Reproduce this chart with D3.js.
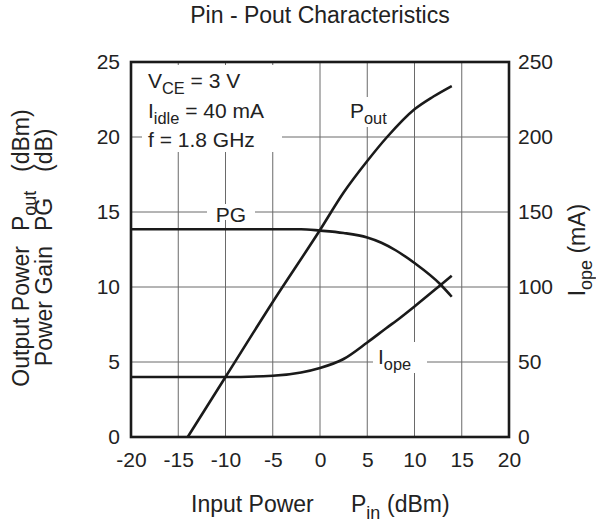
<!DOCTYPE html>
<html>
<head>
<meta charset="utf-8">
<script src="https://cdn.jsdelivr.net/npm/d3@7"></script>
<style>
  body { margin: 0; background: #fff; }
  svg text { font-family: "Liberation Sans", Arial, sans-serif; fill: #222; }
</style>
</head>
<body>
<svg id="chart" width="596" height="523"></svg>
<script>
// tick values
var pinTicks = [-20, -15, -10, -5, 0, 5, 10, 15, 20];
var dbTicks = [0, 5, 10, 15, 20, 25];
var maTicks = [0, 50, 100, 150, 200, 250];

// curves
var poutPin = [-14, -10, -5, 0, 2.5, 5, 7.1, 10, 12, 13.94];
var poutVal = [0, 4, 9, 13.8, 16.3, 18.4, 20, 21.85, 22.7, 23.4];

var pgPin = [-20, -10, -5, -2, 0, 2.5, 5, 6.5, 8, 10, 12.7, 13.94];
var pgVal = [13.85, 13.85, 13.85, 13.85, 13.76, 13.6, 13.3, 12.95, 12.45, 11.6, 10.2, 9.35];

var iopePin = [-20, -10, -5, -2, 0, 2.5, 5, 7, 8.5, 10, 12.7, 13.94];
var iopeVal = [40, 40, 40.8, 43, 46, 52, 63, 72.5, 79.5, 87, 101, 107.5];

var pL = 131, pT = 62, pW = 378, pH = 375;
var svg = d3.select("#chart");

var x = d3.scaleLinear().domain([-20, 20]).range([pL, pL + pW]);
var yL = d3.scaleLinear().domain([0, 25]).range([pT + pH, pT]);
var yR = d3.scaleLinear().domain([0, 250]).range([pT + pH, pT]);

// grid
var grid = svg.append("g").attr("stroke", "#6a6a6a").attr("stroke-width", 1);
grid.selectAll(".gx").data(pinTicks.slice(1, -1)).enter().append("line")
    .attr("x1", function(d) { return x(d); }).attr("x2", function(d) { return x(d); })
    .attr("y1", pT).attr("y2", pT + pH);
grid.selectAll(".gy").data(dbTicks.slice(1, -1)).enter().append("line")
    .attr("x1", pL).attr("x2", pL + pW)
    .attr("y1", function(d) { return yL(d); }).attr("y2", function(d) { return yL(d); });

// white patches behind labels
var patches = [[142, 65, 140, 87], [207, 204, 48, 16], [352, 97, 36, 30], [373, 342, 54, 31]];
svg.selectAll(".patch").data(patches).enter().append("rect")
    .attr("x", function(d) { return d[0]; }).attr("y", function(d) { return d[1]; })
    .attr("width", function(d) { return d[2]; }).attr("height", function(d) { return d[3]; })
    .attr("fill", "#fff");

// curves
var mkLine = function(sc) {
    return d3.line()
        .x(function(d) { return x(d[0]); })
        .y(function(d) { return sc(d[1]); })
        .curve(d3.curveMonotoneX);
};
var curves = [
    [d3.zip(poutPin, poutVal), yL],
    [d3.zip(pgPin, pgVal), yL],
    [d3.zip(iopePin, iopeVal), yR]
];
curves.forEach(function(c) {
    svg.append("path").datum(c[0])
        .attr("d", mkLine(c[1]))
        .attr("fill", "none")
        .attr("stroke", "#1a1a1a")
        .attr("stroke-width", 2.6);
});

// frame
svg.append("rect").attr("x", pL).attr("y", pT).attr("width", pW).attr("height", pH)
    .attr("fill", "none").attr("stroke", "#1a1a1a").attr("stroke-width", 2.6);

// axes (labels only, grid does the ticks)
var fs = 21;
var xAxis = d3.axisBottom(x).tickValues(pinTicks).tickSize(0).tickPadding(15);
var gx = svg.append("g").attr("transform", "translate(0," + (pT + pH) + ")").call(xAxis);
var yAxisL = d3.axisLeft(yL).tickValues(dbTicks).tickSize(0).tickPadding(11);
var gyl = svg.append("g").attr("transform", "translate(" + pL + ",0)").call(yAxisL);
var yAxisR = d3.axisRight(yR).tickValues(maTicks).tickSize(0).tickPadding(9);
var gyr = svg.append("g").attr("transform", "translate(" + (pL + pW) + ",0)").call(yAxisR);
[gx, gyl, gyr].forEach(function(g) {
    g.select(".domain").remove();
    g.selectAll("text").attr("font-size", fs).attr("font-family", null).attr("fill", "#222");
});
gx.selectAll("text").text(function(d) { return String(d); });

// text with subscript helper
var subText = function(g, main, sub, rest, fsz) {
    var t = g.append("text").attr("font-size", fsz);
    t.append("tspan").text(main);
    t.append("tspan").text(sub).attr("font-size", fsz * 0.78).attr("dy", fsz * 0.3);
    if (rest) t.append("tspan").text(rest).attr("dy", -fsz * 0.3);
    return t;
};

// title
svg.append("text").text("Pin - Pout Characteristics")
    .attr("x", 320).attr("y", 23).attr("text-anchor", "middle").attr("font-size", 23);

// condition box
subText(svg, "V", "CE", " = 3 V", fs).attr("x", 148).attr("y", 88);
subText(svg, "I", "idle", " = 40 mA", fs).attr("x", 148).attr("y", 118);
svg.append("text").text("f = 1.8 GHz").attr("x", 148).attr("y", 147).attr("font-size", fs);

// curve labels
svg.append("text").text("PG").attr("x", 231).attr("y", 222).attr("text-anchor", "middle").attr("font-size", fs);
subText(svg, "P", "out", null, fs).attr("x", 350).attr("y", 118);
subText(svg, "I", "ope", null, fs).attr("x", 378).attr("y", 364);

// x title
var ft = 23;
svg.append("text").text("Input Power").attr("x", 191).attr("y", 512).attr("font-size", ft);
subText(svg, "P", "in", null, ft).attr("x", 351).attr("y", 512);
svg.append("text").text("(dBm)").attr("x", 387).attr("y", 512).attr("font-size", ft);

// left titles (rotated)
var rot = function(t, px, py) { return t.attr("transform", "translate(" + px + "," + py + ") rotate(-90)"); };
rot(svg.append("text").text("Output Power").attr("text-anchor", "end").attr("font-size", ft), 29, 246);
rot(subText(svg, "P", "out", null, ft), 29, 231);
rot(svg.append("text").text("(dBm)").attr("font-size", ft), 29, 172);
rot(svg.append("text").text("Power Gain").attr("text-anchor", "end").attr("font-size", ft), 52, 246);
rot(svg.append("text").text("PG").attr("font-size", ft), 52, 231);
rot(svg.append("text").text("(dB)").attr("font-size", ft), 52, 172);

// right title
rot(subText(svg, "I", "ope", " (mA)", ft).attr("text-anchor", "middle"), 585, 250);
</script>
</body>
</html>
